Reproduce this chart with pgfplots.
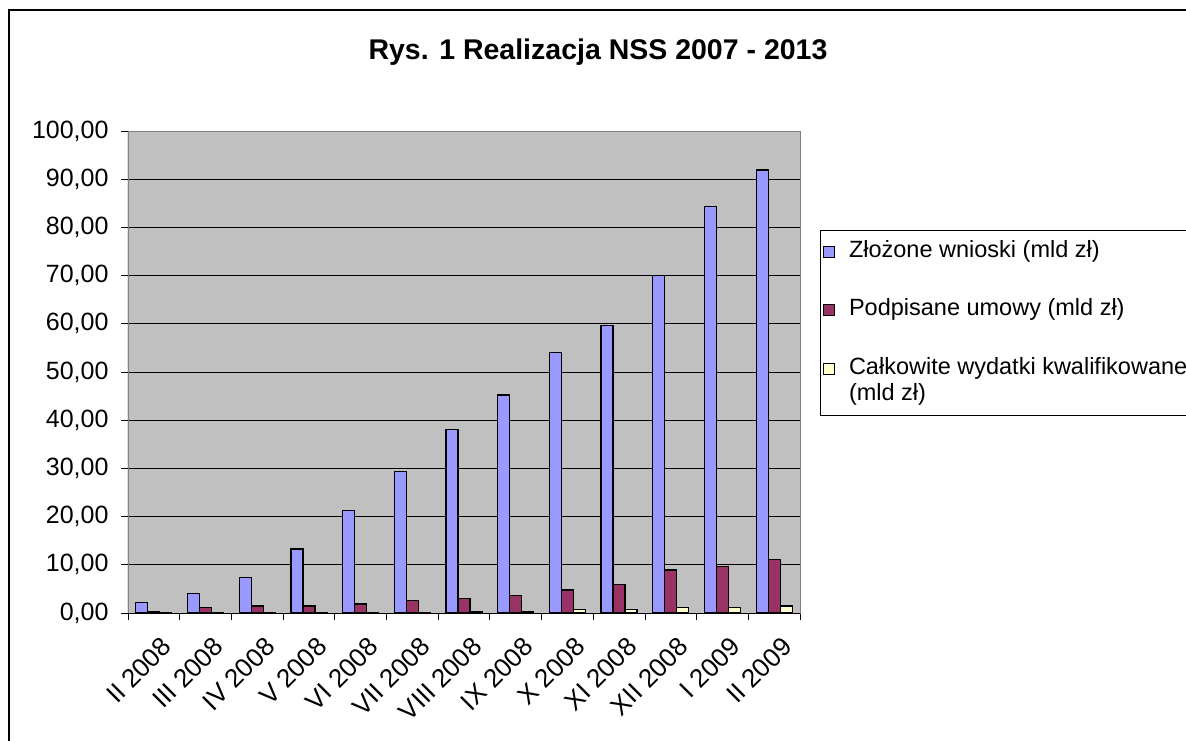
\documentclass[border=0pt]{standalone}
\usepackage{pgfplots}
\pgfplotsset{compat=1.18}
\usepackage{fontspec}
\setmainfont{Liberation Sans}

\definecolor{cBlue}{HTML}{9999FF}
\definecolor{cRed}{HTML}{993366}
\definecolor{cYel}{HTML}{FFFFCC}
\definecolor{cPlot}{HTML}{C0C0C0}

% months: II 2008 ... II 2009, values in mld zl
\pgfplotstableread{
x wnioski umowy wydatki
0  2.2  0.35 0.02
1  4.1  1.1  0.03
2  7.4  1.45 0.05
3  13.3 1.45 0.07
4  21.3 1.85 0.10
5  29.4 2.6  0.15
6  38.1 3.0  0.30
7  45.2 3.65 0.30
8  54.1 4.8  0.75
9  59.7 5.85 0.75
10 70.0 8.95 1.20
11 84.4 9.6  1.20
12 91.9 11.1 1.45
}\nss

\begin{document}
\begin{tikzpicture}[x=1pt,y=1pt]
\useasboundingbox (-128,-127) rectangle (1058,613);
\draw[black, line width=1.2pt] (-119,-140) rectangle (1090,603);
\node[font=\bfseries\fontsize{28.5}{32}\selectfont] at (470,561) {Rys. 1 Realizacja NSS 2007 - 2013};
\begin{axis}[
    at={(0,0)}, anchor=south west,
    scale only axis,
    width=672pt, height=482pt,
    ybar=0pt, bar width=12pt,
    xmin=-0.5, xmax=12.5,
    ymin=0, ymax=100,
    xtick={0,...,12},
    xticklabels={II 2008,III 2008,IV 2008,V 2008,VI 2008,VII 2008,VIII 2008,IX 2008,X 2008,XI 2008,XII 2008,I 2009,II 2009},
    minor xtick={-0.5,0.5,...,12.5},
    xtick pos=bottom, ytick pos=left,
    major x tick style={draw=none},
    minor x tick style={black, line width=0.8pt},
    ytick={0,10,...,100},
    tick align=outside,
    major tick length=7pt, minor tick length=7pt,
    y tick style={black, line width=0.8pt},
    ymajorgrids=true,
    grid style={black, line width=0.8pt},
    axis background/.style={fill=cPlot},
    axis line style={draw=gray, line width=0.8pt},
    ticklabel style={font=\fontsize{25}{28}\selectfont},
    /pgf/number format/assume math mode=true,
    yticklabel style={xshift=-9pt, /pgf/number format/.cd, fixed, fixed zerofill, precision=2, use comma},
    xticklabel style={rotate=45, anchor=east, xshift=-3pt, yshift=-25pt, font=\fontsize{26}{28}\selectfont},
    legend style={at={(1.0298,0.782)}, anchor=north west, draw=none, fill=none,
        font=\fontsize{23.5}{26}\selectfont, row sep=36pt,
        cells={anchor=base west},
        /tikz/every odd column/.append style={column sep=12pt}},
    legend image code/.code={\draw[#1, line width=0.8pt, bar width=0pt] (0pt,0pt) rectangle (11pt,11pt);},
    every axis plot/.append style={draw=black, line width=1.3pt},
]
\addplot[fill=cBlue] table[x=x, y=wnioski] {\nss};
\addlegendentry{Złożone wnioski (mld zł)}
\addplot[fill=cRed] table[x=x, y=umowy] {\nss};
\addlegendentry{Podpisane umowy (mld zł)}
\addplot[fill=cYel] table[x=x, y=wydatki] {\nss};
\addlegendentry{\parbox[t]{400pt}{Całkowite wydatki kwalifikowane\\(mld zł)}}
\draw[black, line width=1pt] (rel axis cs:0,0) -- (rel axis cs:0,1);
\draw[black, line width=1pt] (rel axis cs:0,0) -- (rel axis cs:1,0);
\end{axis}
\draw[black, line width=1pt] (692,383) rectangle (1100,198);
\end{tikzpicture}
\end{document}
